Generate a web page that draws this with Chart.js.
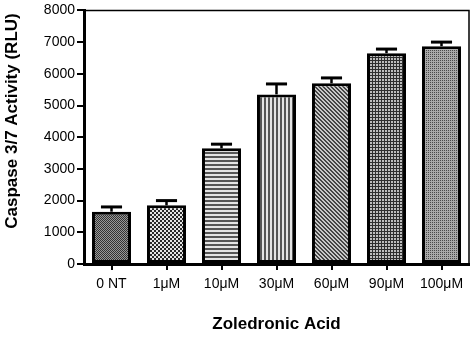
<!DOCTYPE html>
<html>
<head>
<meta charset="utf-8">
<script src="https://cdn.jsdelivr.net/npm/chart.js@4"></script>
<style>
  html, body { margin: 0; padding: 0; background: #fff; }
  #wrap { width: 472px; height: 341px; }
</style>
</head>
<body>
<div id="wrap"><canvas id="caspaseChart" width="472" height="341"></canvas></div>
<script>
// Dados
const doses = ['0 NT', '1μM', '10μM', '30μM', '60μM', '90μM', '100μM'];
const activity = [1650, 1850, 3650, 5350, 5700, 6650, 6870];
const sem = [150, 150, 130, 330, 170, 130, 130];
const yTicks = [0, 1000, 2000, 3000, 4000, 5000, 6000, 7000, 8000];
const yTitle = 'Caspase 3/7 Activity (RLU)';

// pequenos padrões de preenchimento (um por barra)
function makePattern(size, draw) {
    const c = document.createElement('canvas');
    c.width = size; c.height = size;
    const g = c.getContext('2d');
    draw(g, size);
    return g.createPattern(c, 'repeat');
}

const patterns = [
    makePattern(2, g => { g.fillStyle = '#999'; g.fillRect(0, 0, 2, 2); g.fillStyle = '#333'; g.fillRect(0, 0, 1, 1); g.fillRect(1, 1, 1, 1); }),
    makePattern(4, g => { g.fillStyle = '#e6e6e6'; g.fillRect(0, 0, 4, 4); g.fillStyle = '#2a2a2a'; g.fillRect(0, 0, 2, 2); g.fillRect(2, 2, 2, 2); }),
    makePattern(4, g => { g.fillStyle = '#e4e4e4'; g.fillRect(0, 0, 4, 4); g.fillStyle = '#555'; g.fillRect(0, 0, 4, 2); }),
    makePattern(4, g => { g.fillStyle = '#e4e4e4'; g.fillRect(0, 0, 4, 4); g.fillStyle = '#555'; g.fillRect(0, 0, 2, 4); }),
    makePattern(4, g => { g.fillStyle = '#c8c8c8'; g.fillRect(0, 0, 4, 4); g.fillStyle = '#444';
        for (let i = 0; i < 4; i++) { g.fillRect(i, i, 1, 1); g.fillRect((i + 1) % 4, i, 1, 1); } }),
    makePattern(3, g => { g.fillStyle = '#2e2e2e'; g.fillRect(0, 0, 3, 3); g.fillStyle = '#bdbdbd'; g.fillRect(1, 1, 2, 2); }),
    makePattern(2, g => { g.fillStyle = '#aaa'; g.fillRect(0, 0, 2, 2); g.fillStyle = '#4a4a4a'; g.fillRect(0, 0, 1, 1); })
];

// barras de erro (só para cima), moldura de cima/direita e título do eixo Y
const errorBarsPlugin = {
    id: 'errorBars',
    beforeDatasetsDraw(chart) {
        const { ctx, chartArea: { top, right, bottom, left } } = chart;
        ctx.save();
        ctx.strokeStyle = '#000';
        ctx.lineWidth = 1.5;
        ctx.beginPath();
        ctx.moveTo(left, top);
        ctx.lineTo(right, top);
        ctx.lineTo(right, bottom);
        ctx.stroke();
        ctx.restore();
    },
    afterDatasetsDraw(chart) {
        const { ctx, scales: { y } } = chart;
        const meta = chart.getDatasetMeta(0);
        ctx.save();
        ctx.strokeStyle = '#000';
        meta.data.forEach((bar, i) => {
            const top = y.getPixelForValue(activity[i] + sem[i]);
            const capHalf = bar.width * 0.27;
            ctx.lineWidth = 2.5;
            ctx.beginPath();
            ctx.moveTo(bar.x, bar.y);
            ctx.lineTo(bar.x, top);
            ctx.stroke();
            ctx.lineWidth = 3;
            ctx.beginPath();
            ctx.moveTo(bar.x - capHalf, top);
            ctx.lineTo(bar.x + capHalf, top);
            ctx.stroke();
        });
        ctx.restore();
    },
    afterDraw(chart) {
        const ctx = chart.ctx;
        ctx.save();
        ctx.translate(12, 121);
        ctx.rotate(-Math.PI / 2);
        ctx.font = 'bold 17px "Liberation Sans", Arial, sans-serif';
        ctx.fillStyle = '#000';
        ctx.textAlign = 'center';
        ctx.textBaseline = 'middle';
        ctx.fillText(yTitle, 0, 0);
        ctx.restore();
    }
};

Chart.defaults.font.family = '"Liberation Sans", Arial, sans-serif';
Chart.defaults.color = '#000';

new Chart(document.getElementById('caspaseChart'), {
    type: 'bar',
    data: {
        labels: doses,
        datasets: [{
            data: activity,
            backgroundColor: patterns,
            borderColor: '#000',
            borderWidth: 3,
            borderSkipped: false,
            barPercentage: 0.71,
            categoryPercentage: 1.0
        }]
    },
    options: {
        responsive: false,
        animation: false,
        devicePixelRatio: 1,
        layout: { padding: { left: 0, right: 3, top: 9, bottom: 6 } },
        plugins: { legend: { display: false }, tooltip: { enabled: false } },
        scales: {
            x: {
                grid: { display: true, offset: false, drawOnChartArea: false, drawTicks: true, tickLength: 6, lineWidth: 2, color: '#000' },
                border: { display: true, color: '#000', width: 3 },
                ticks: { font: { size: 14 }, padding: 6, maxRotation: 0, autoSkip: false },
                title: { display: true, text: 'Zoledronic Acid', font: { size: 17, weight: 'bold' }, padding: { top: 14, bottom: 0 } },
                afterFit(scale) { scale.height = 71; }
            },
            y: {
                min: 0,
                max: 8000,
                afterBuildTicks(scale) { scale.ticks = yTicks.map(v => ({ value: v })); },
                grid: { display: true, drawOnChartArea: false, drawTicks: true, tickLength: 7, lineWidth: 2, color: '#000' },
                border: { display: true, color: '#000', width: 3 },
                ticks: { font: { size: 14 }, padding: 2, callback: v => String(v) },
                afterFit(scale) { scale.width = 84; }
            }
        }
    },
    plugins: [errorBarsPlugin]
});
</script>
</body>
</html>
